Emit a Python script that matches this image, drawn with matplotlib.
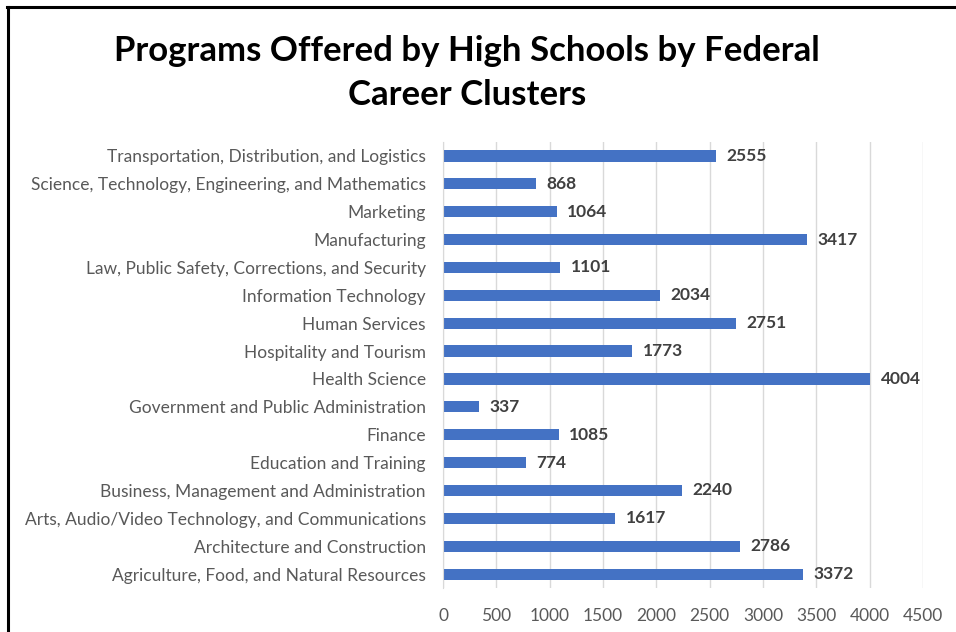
import matplotlib
matplotlib.use("Agg")
import matplotlib.pyplot as plt
from matplotlib.lines import Line2D

# categories listed bottom to top, as drawn
categories = [
    "Agriculture, Food, and Natural Resources",
    "Architecture and Construction",
    "Arts, Audio/Video Technology, and Communications",
    "Business, Management and Administration",
    "Education and Training",
    "Finance",
    "Government and Public Administration",
    "Health Science",
    "Hospitality and Tourism",
    "Human Services",
    "Information Technology",
    "Law, Public Safety, Corrections, and Security",
    "Manufacturing",
    "Marketing",
    "Science, Technology, Engineering, and Mathematics",
    "Transportation, Distribution, and Logistics",
]
programs = [3372, 2786, 1617, 2240, 774, 1085, 337, 4004, 1773, 2751, 2034, 1101, 3417, 1064, 868, 2555]
x_ticks = [0, 500, 1000, 1500, 2000, 2500, 3000, 3500, 4000, 4500]
title = "Programs Offered by High Schools by Federal\nCareer Clusters"

plt.rcParams["font.family"] = ["Lato", "DejaVu Sans"]

fig = plt.figure(figsize=(9.56, 6.32), dpi=100)
ax = fig.add_axes([0.4634, 0.0696, 0.5021, 0.7057])

ypos = list(range(len(categories)))
ax.barh(ypos, programs, height=0.4, color="#4472C4", zorder=3)
for y, v in zip(ypos, programs):
    ax.annotate(f"{v}", (v, y), xytext=(7.5, 0), textcoords="offset points",
                va="center", ha="left", fontsize=12.5, fontweight="bold", color="#404040")

ax.set_xlim(0, 4500)
ax.set_ylim(-0.5, len(categories) - 0.5)
ax.set_xticks(x_ticks)
ax.set_yticks(ypos)
ax.set_yticklabels(categories)
ax.tick_params(axis="both", length=0, labelsize=12.5, labelcolor="#595959")
ax.tick_params(axis="y", pad=12.5)
ax.tick_params(axis="x", pad=14.5)
ax.grid(axis="x", color="#d9d9d9", lw=1, zorder=0)
for s in ["top", "right", "bottom"]:
    ax.spines[s].set_visible(False)
ax.spines["left"].set_color("#d9d9d9")
ax.spines["left"].set_zorder(4)

fig.text(0.4885, 0.884, title, ha="center", va="center", fontsize=25,
         fontweight="bold", color="black", linespacing=1.45)

# frame of the embedded chart (cropped at right and bottom)
fig.add_artist(Line2D([8 / 956, 8 / 956], [0, 1 - 6.5 / 632], transform=fig.transFigure,
                      color="black", lw=2.2))
fig.add_artist(Line2D([7 / 956, 1], [1 - 6.5 / 632, 1 - 6.5 / 632], transform=fig.transFigure,
                      color="black", lw=2.2))

fig.savefig("out.png", dpi=100)
